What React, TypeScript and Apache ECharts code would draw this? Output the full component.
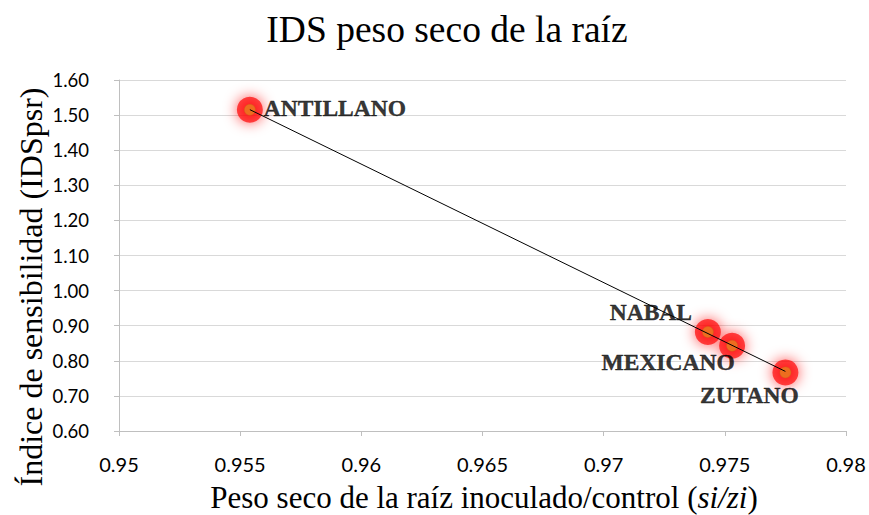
import React, { useEffect, useRef } from "react";
import * as echarts from "echarts";

const varieties = ["ANTILLANO", "NABAL", "MEXICANO", "ZUTANO"];
const ratioSiZi = [0.9554, 0.9743, 0.9753, 0.9775];
const idsPsr = [1.515, 0.882, 0.843, 0.767];

const yTicks = { min: 0.6, max: 1.6, interval: 0.1 };
const xTicks = { min: 0.95, max: 0.98, interval: 0.005 };

const labelOffsets: Record<string, [number, number]> = {
  ANTILLANO: [85, -2],
  NABAL: [-57, -20],
  MEXICANO: [-64, 16],
  ZUTANO: [-36, 23],
};

function regression(xs: number[], ys: number[]) {
  const n = xs.length;
  const mx = xs.reduce((a, b) => a + b, 0) / n;
  const my = ys.reduce((a, b) => a + b, 0) / n;
  let sxy = 0;
  let sxx = 0;
  for (let i = 0; i < n; i++) {
    sxy += (xs[i] - mx) * (ys[i] - my);
    sxx += (xs[i] - mx) * (xs[i] - mx);
  }
  const slope = sxy / sxx;
  const icpt = my - slope * mx;
  const x0 = Math.min(...xs);
  const x1 = Math.max(...xs);
  return [
    [x0, icpt + slope * x0],
    [x1, icpt + slope * x1],
  ];
}

export default function App() {
  const ref = useRef<HTMLDivElement>(null);
  useEffect(() => {
    if (!ref.current) return;
    const chart = echarts.init(ref.current, null, { renderer: "svg" });
    const pts = ratioSiZi.map((x, i) => [x, idsPsr[i]]);
    const serif = "'Liberation Serif', 'Times New Roman', serif";
    const sans = "Lato, Carlito, Calibri, sans-serif";
    chart.setOption({
      animation: false,
      backgroundColor: "#ffffff",
      grid: { left: 119, right: 23, top: 80, bottom: 84 },
      xAxis: {
        type: "value",
        min: xTicks.min,
        max: xTicks.max,
        interval: xTicks.interval,
        axisLine: { show: true, onZero: false, lineStyle: { color: "#bfbfbf", width: 1 } },
        axisTick: { show: true, length: 5, lineStyle: { color: "#bfbfbf" } },
        splitLine: { show: false },
        axisLabel: {
          color: "#000",
          fontFamily: sans,
          fontSize: 20,
          margin: 23,
          formatter: (v: number) => String(parseFloat(v.toFixed(3))),
        },
      },
      yAxis: {
        type: "value",
        min: yTicks.min,
        max: yTicks.max,
        interval: yTicks.interval,
        axisLine: { show: true, lineStyle: { color: "#bfbfbf", width: 1 } },
        axisTick: { show: true, length: 5, lineStyle: { color: "#bfbfbf" } },
        splitLine: { show: true, lineStyle: { color: "#d9d9d9", width: 1 } },
        axisLabel: {
          color: "#000",
          fontFamily: sans,
          fontSize: 18.5,
          margin: 30,
          formatter: (v: number) => v.toFixed(2),
        },
      },
      graphic: [
        {
          type: "text",
          x: 447,
          y: 29,
          style: {
            text: "IDS peso seco de la raíz",
            fontFamily: serif,
            fontSize: 37.5,
            fill: "#000",
            textAlign: "center",
            textVerticalAlign: "middle",
          },
        },
        {
          type: "text",
          x: 484,
          y: 513,
          style: {
            text: "{n|Peso seco de la raíz inoculado/control (}{i|si/zi}{n|)}",
            rich: {
              n: { fontFamily: serif, fontSize: 31, lineHeight: 31, fill: "#000" },
              i: { fontFamily: serif, fontSize: 31, lineHeight: 31, fontStyle: "italic", fill: "#000" },
            },
            fontFamily: serif,
            fontSize: 31,
            lineHeight: 31,
            fill: "#000",
            textAlign: "center",
            textVerticalAlign: "bottom",
          },
        },
        {
          type: "text",
          x: 31,
          y: 287,
          rotation: Math.PI / 2,
          style: {
            text: "Índice de sensibilidad (IDSpsr)",
            fontFamily: serif,
            fontSize: 32,
            fill: "#000",
            textAlign: "center",
            textVerticalAlign: "middle",
          },
        },
      ],
      series: [
        {
          type: "scatter",
          name: "glow",
          z: 2,
          silent: true,
          symbolSize: 26,
          itemStyle: { color: "rgba(255,0,0,0.85)", shadowBlur: 14, shadowColor: "#ff0000" },
          data: pts,
        },
        {
          type: "scatter",
          name: "IDS",
          z: 3,
          symbolSize: 11,
          itemStyle: { color: "#E8801E", borderColor: "#C8661A", borderWidth: 0.5 },
          data: pts.map((p, i) => ({
            value: p,
            name: varieties[i],
            label: {
              show: true,
              position: ["50%", "50%"],
              offset: labelOffsets[varieties[i]],
              formatter: varieties[i],
              fontFamily: serif,
              fontWeight: "bold",
              fontSize: 23.5,
              color: "#000",
              textBorderColor: "#000",
              textBorderWidth: 0.4,
              align: "center",
              verticalAlign: "middle",
            },
          })),
        },
        {
          type: "line",
          name: "trend",
          z: 4,
          symbol: "none",
          silent: true,
          lineStyle: { color: "#000", width: 1 },
          data: regression(ratioSiZi, idsPsr),
        },
      ],
    });
    return () => chart.dispose();
  }, []);
  return <div ref={ref} style={{ width: 869, height: 515, position: "absolute", left: 0, top: 0 }} />;
}
